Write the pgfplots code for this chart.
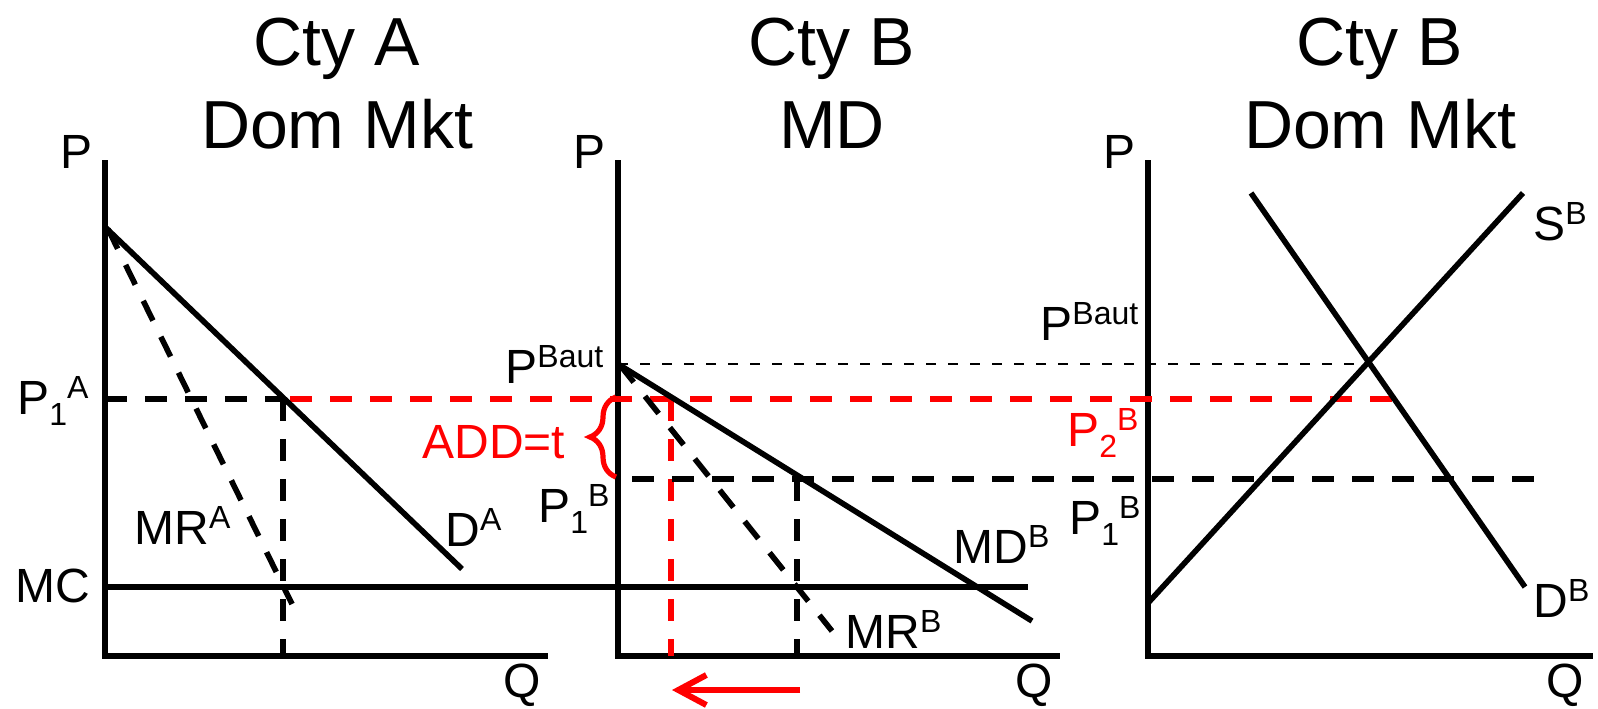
\documentclass[border=0pt]{standalone}
\usepackage{fontspec}
\setmainfont{Liberation Sans}
\usepackage{pgfplots}
\pgfplotsset{compat=1.18}
\usetikzlibrary{arrows.meta,decorations.pathreplacing}

% one picture pixel = 0.5pt
\newcommand{\lab}{\fontsize{24}{28}\selectfont}
\newcommand{\ttl}{\fontsize{34}{40}\selectfont}
\newcommand{\sps}[1]{\raisebox{8pt}{\fontsize{16}{18}\selectfont #1}}
\newcommand{\sbs}[1]{\raisebox{-5.5pt}{\fontsize{16}{18}\selectfont #1}}

\begin{document}
\begin{tikzpicture}
\begin{axis}[
    scale only axis,
    width=799pt, height=352.5pt,
    xmin=0, xmax=1598, ymin=0, ymax=705,
    y dir=reverse,
    hide axis,
    clip=false,
    line cap=butt,
]
\path (axis cs:0,0) rectangle (axis cs:1598,705);

% axes
\addplot[black, line width=3pt, line join=miter] coordinates {(105,160) (105,656) (548,656)};
\addplot[black, line width=3pt, line join=miter] coordinates {(618,160) (618,656) (1060,656)};
\addplot[black, line width=3pt, line join=miter] coordinates {(1148,160) (1148,656) (1593,656)};

% guide lines
\addplot[black, line width=1.2pt, dash pattern=on 5pt off 6pt] coordinates {(618,364) (1369,364)};
\addplot[black, line width=2.8pt, dash pattern=on 11pt off 9pt] coordinates {(105,399) (283,399)};
\addplot[black, line width=2.8pt, dash pattern=on 11pt off 9pt] coordinates {(283,399) (283,656)};
\addplot[red, line width=3pt, dash pattern=on 11pt off 9pt] coordinates {(290,399) (1396,399)};
\addplot[red, line width=3pt, dash pattern=on 11pt off 9pt] coordinates {(671,399) (671,656)};
\addplot[black, line width=2.8pt, dash pattern=on 11pt off 9pt] coordinates {(632,479) (1535,479)};
\addplot[black, line width=2.8pt, dash pattern=on 11pt off 9pt] coordinates {(797,479) (797,656)};

% curves
\addplot[black, line width=2.8pt] coordinates {(105,227) (462,569)};
\addplot[black, line width=2.8pt, dash pattern=on 11pt off 9pt] coordinates {(108,229) (292,604)};
\addplot[black, line width=2.8pt] coordinates {(105,587) (1028,587)};
\addplot[black, line width=2.8pt] coordinates {(618,364) (1032,621)};
\addplot[black, line width=2.8pt, dash pattern=on 11pt off 9pt] coordinates {(620,365) (832,631)};
\addplot[black, line width=2.8pt] coordinates {(1148,603) (1523,193)};
\addplot[black, line width=2.8pt] coordinates {(1251,193) (1525,587)};

% arrow and brace
\addplot[red, line width=3pt, -{Straight Barb[length=14pt,width=15pt]}] coordinates {(800,690) (672,690)};
\draw[red, line width=2.6pt, decorate, decoration={brace, amplitude=13pt}]
    (axis cs:616,477) -- (axis cs:616,397);

% titles
\node[anchor=base, inner sep=0pt, font=\ttl] at (axis cs:337,65) {Cty A};
\node[anchor=base, inner sep=0pt, font=\ttl] at (axis cs:337,148) {Dom Mkt};
\node[anchor=base, inner sep=0pt, font=\ttl] at (axis cs:832,65) {Cty B};
\node[anchor=base, inner sep=0pt, font=\ttl] at (axis cs:832,148) {MD};
\node[anchor=base, inner sep=0pt, font=\ttl] at (axis cs:1380,65) {Cty B};
\node[anchor=base, inner sep=0pt, font=\ttl] at (axis cs:1380,148) {Dom Mkt};

% labels
\node[anchor=base west, inner sep=0pt, font=\lab] at (axis cs:60,168) {P};
\node[anchor=base west, inner sep=0pt, font=\lab] at (axis cs:573,168) {P};
\node[anchor=base west, inner sep=0pt, font=\lab] at (axis cs:1103,168) {P};
\node[anchor=base west, inner sep=0pt, font=\lab] at (axis cs:503,697) {Q};
\node[anchor=base west, inner sep=0pt, font=\lab] at (axis cs:1015,697) {Q};
\node[anchor=base west, inner sep=0pt, font=\lab] at (axis cs:1546,697) {Q};

\node[anchor=base west, inner sep=0pt, font=\lab] at (axis cs:17,414) {P\sbs{1}\sps{A}};
\node[anchor=base west, inner sep=0pt, font=\lab] at (axis cs:15,602) {MC};
\node[anchor=base west, inner sep=0pt, font=\lab] at (axis cs:134,544) {MR\sps{A}};
\node[anchor=base west, inner sep=0pt, font=\lab] at (axis cs:445,546) {D\sps{A}};

\node[anchor=base west, inner sep=0pt, font=\lab, text=red] at (axis cs:422,458) {ADD=t};
\node[anchor=base west, inner sep=0pt, font=\lab] at (axis cs:505,383) {P\sps{Baut}};
\node[anchor=base west, inner sep=0pt, font=\lab] at (axis cs:538,522) {P\sbs{1}\sps{B}};
\node[anchor=base west, inner sep=0pt, font=\lab] at (axis cs:953,563) {MD\sps{B}};
\node[anchor=base west, inner sep=0pt, font=\lab] at (axis cs:845,648) {MR\sps{B}};

\node[anchor=base west, inner sep=0pt, font=\lab] at (axis cs:1040,340) {P\sps{Baut}};
\node[anchor=base west, inner sep=0pt, font=\lab, text=red] at (axis cs:1067,446) {P\sbs{2}\sps{B}};
\node[anchor=base west, inner sep=0pt, font=\lab] at (axis cs:1069,534) {P\sbs{1}\sps{B}};
\node[anchor=base west, inner sep=0pt, font=\lab] at (axis cs:1533,240) {S\sps{B}};
\node[anchor=base west, inner sep=0pt, font=\lab] at (axis cs:1533,617) {D\sps{B}};
\end{axis}
\end{tikzpicture}
\end{document}
